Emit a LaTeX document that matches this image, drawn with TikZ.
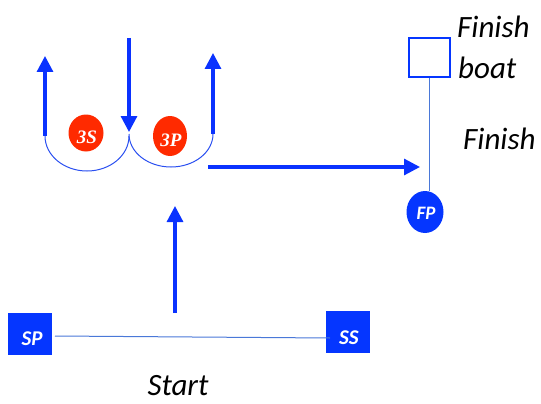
\documentclass[tikz,border=0pt]{standalone}
\usepackage{fontspec}
\setmainfont{Carlito}
\newfontfamily\serifbi{Liberation Serif}
\usetikzlibrary{arrows.meta,shapes.geometric}
\definecolor{arrblue}{HTML}{0A32FF}
\definecolor{boxblue}{HTML}{0536FF}
\definecolor{thinblue}{HTML}{4A78D8}
\definecolor{arcblue}{HTML}{2A4FF0}
\definecolor{buoyred}{HTML}{FF2A00}
\tikzset{
  x=1pt,y=-1pt,
  bigarrow/.style={draw=arrblue,line width=3.2pt,-{Triangle[width=16pt,length=16pt]}},
  arcline/.style={draw=arcblue,line width=1pt},
  thinline/.style={draw=thinblue,line width=1pt},
  startbox/.style={draw=none,fill=boxblue,minimum width=44pt,minimum height=42pt,inner sep=0pt},
  boxtext/.style={text=white,font=\fontsize{21}{22}\selectfont\bfseries\itshape,inner sep=0pt},
  buoy/.style={ellipse,fill=buoyred,inner sep=0pt},
  buoytext/.style={text=white,font=\serifbi\fontsize{19}{20}\selectfont\bfseries\itshape,inner sep=0pt},
  label/.style={font=\fontsize{31}{34}\selectfont\itshape,text=black,inner sep=0pt}
}
\begin{document}
\begin{tikzpicture}
\useasboundingbox (0,0) rectangle (541,404);
% start line
\node[startbox] (SP) at (30,334) {};
\node[boxtext] (SPt) at (32,339) {SP};
\node[startbox] (SS) at (348,332) {};
\node[boxtext] (SSt) at (349,338) {SS};
\draw[thinline] (55,336) coordinate (sl) -- (330,338) coordinate (sr);
\node[label] (start) at (178,386) {Start};
% upwind arrow
\coordinate (a1) at (175,313);
\coordinate (a2) at (175,206);
\draw[bigarrow] (a1) -- (a2);
% gate buoys
\node[buoy,minimum width=35pt,minimum height=37pt] (S3) at (86,133) {};
\node[buoytext] (S3t) at (87,137) {3S};
\node[buoy,minimum width=34pt,minimum height=40pt] (P3) at (170,136) {};
\node[buoytext] (P3t) at (171,140) {3P};
% down arrow
\coordinate (d1) at (129,38);
\coordinate (d2) at (129,132);
\draw[bigarrow] (d1) -- (d2);
% U arcs
\coordinate (lu) at (45,136);
\coordinate (mid) at (129,134);
\coordinate (ru) at (213,134);
\draw[arcline] (lu) arc[start angle=180,end angle=360,x radius=42,y radius=-35];
\draw[arcline] (mid) arc[start angle=180,end angle=360,x radius=42,y radius=-33];
\coordinate (lt) at (45,56);
\coordinate (rt) at (213,53);
\draw[bigarrow] (lu) -- (lt);
\draw[bigarrow] (ru) -- (rt);
% reach arrow
\coordinate (h1) at (208,167);
\coordinate (h2) at (420,167);
\draw[bigarrow] (h1) -- (h2);
% finish
\node[draw=boxblue,line width=2pt,minimum width=41pt,minimum height=39pt,inner sep=0pt] (FB) at (429.5,57.5) {};
\node[ellipse,fill=boxblue,minimum width=37pt,minimum height=42pt,inner sep=0pt] (FP) at (425,212) {};
\node[text=white,font=\fontsize{19}{20}\selectfont\bfseries\itshape,inner sep=0pt] (FPt) at (426,213) {FP};
\draw[thinline] (FB.south) -- (FB.south |- FP.north);
\node[label,anchor=west] (fin1) at (457,27) {Finish};
\node[label,anchor=west] (boat) at (458,68) {boat};
\node[label,anchor=west] (fin2) at (463,139) {Finish};
\end{tikzpicture}
\end{document}
